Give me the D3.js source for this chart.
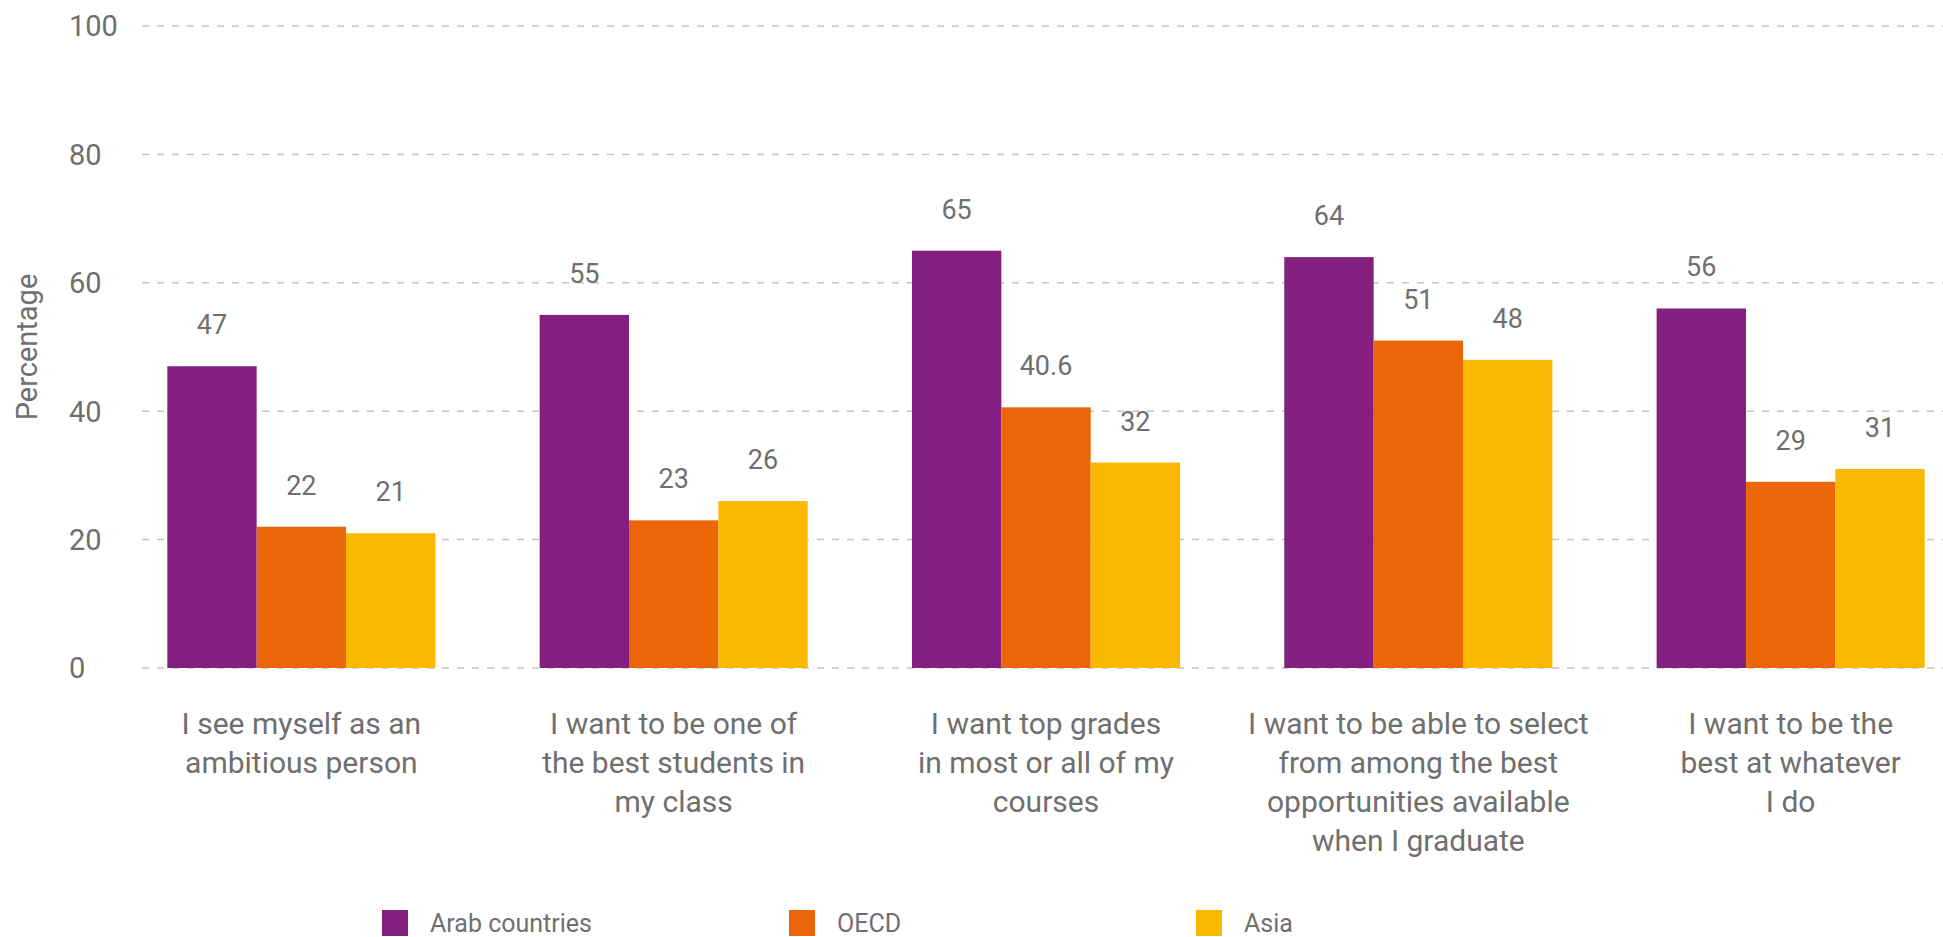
<!DOCTYPE html>
<html>
<head>
<meta charset="utf-8">
<script src="https://cdn.jsdelivr.net/npm/d3@7"></script>
<style>
  html, body { margin: 0; padding: 0; background: #ffffff; }
  svg { display: block; }
  text { font-family: Roboto, "Noto Sans", sans-serif; fill: #6f6f6f; }
</style>
</head>
<body>
<svg id="chart" width="1943" height="937"></svg>
<script>
// Survey statements (one entry per group, split into display lines)
const categories = [
  ["I see myself as an", "ambitious person"],
  ["I want to be one of", "the best students in", "my class"],
  ["I want top grades", "in most or all of my", "courses"],
  ["I want to be able to select", "from among the best", "opportunities available", "when I graduate"],
  ["I want to be the", "best at whatever", "I do"]
];

const seriesNames = ["Arab countries", "OECD", "Asia"];
const seriesColors = ["#831f7e", "#eb6608", "#fab900"];

// Percentage of students agreeing, per region
const arabValues = [47, 55, 65, 64, 56];
const oecdValues = [22, 23, 40.6, 51, 29];
const asiaValues = [21, 26, 32, 48, 31];

const yTicks = [0, 20, 40, 60, 80, 100];
const yTitle = "Percentage";

const seriesValues = [arabValues, oecdValues, asiaValues];

const svg = d3.select("#chart");

const x0 = d3.scaleBand()
  .domain(d3.range(categories.length))
  .range([142, 1950])
  .paddingInner(0.28)
  .paddingOuter(0.068);

const x1 = d3.scaleBand()
  .domain(d3.range(seriesNames.length))
  .range([0, x0.bandwidth()])
  .padding(0);

const y = d3.scaleLinear().domain([0, 100]).range([668, 26]);

// Dashed horizontal gridlines
svg.append("g")
  .selectAll("line")
  .data(yTicks)
  .join("line")
  .attr("x1", 142)
  .attr("x2", 1943)
  .attr("y1", d => y(d))
  .attr("y2", d => y(d))
  .attr("stroke", "#c4c4c4")
  .attr("stroke-width", 1.5)
  .attr("stroke-dasharray", "7,8");

// Y tick labels, left aligned
svg.append("g")
  .selectAll("text")
  .data(yTicks)
  .join("text")
  .attr("x", 69)
  .attr("y", d => y(d))
  .attr("dy", "0.36em")
  .attr("font-size", 29)
  .text(d => d);

// Axis title
svg.append("text")
  .attr("transform", `translate(37, 347) rotate(-90)`)
  .attr("text-anchor", "middle")
  .attr("font-size", 29)
  .text(yTitle);

// Bars grouped by statement
const groups = svg.append("g")
  .selectAll("g")
  .data(categories.map((c, i) => i))
  .join("g")
  .attr("transform", i => `translate(${x0(i)},0)`);

groups.selectAll("rect")
  .data(i => seriesValues.map((vals, s) => ({ s, v: vals[i] })))
  .join("rect")
  .attr("x", d => x1(d.s))
  .attr("y", d => y(d.v))
  .attr("width", x1.bandwidth())
  .attr("height", d => y(0) - y(d.v))
  .attr("fill", d => seriesColors[d.s]);

// Value labels above each bar
groups.selectAll("text.value")
  .data(i => seriesValues.map((vals, s) => ({ s, v: vals[i] })))
  .join("text")
  .attr("class", "value")
  .attr("x", d => x1(d.s) + x1.bandwidth() / 2)
  .attr("y", d => y(d.v) - 32)
  .attr("text-anchor", "middle")
  .attr("font-size", 27)
  .text(d => d.v);

// Statement labels under the groups
const catLabels = svg.append("g")
  .selectAll("text")
  .data(categories.map((c, i) => ({ lines: c, i })))
  .join("text")
  .attr("text-anchor", "middle")
  .attr("font-size", 30);

catLabels.selectAll("tspan")
  .data(d => d.lines.map((line, k) => ({ line, k, i: d.i })))
  .join("tspan")
  .attr("x", d => x0(d.i) + x0.bandwidth() / 2)
  .attr("y", d => 734 + d.k * 39)
  .text(d => d.line);

// Legend
const legend = svg.append("g")
  .selectAll("g")
  .data(seriesNames.map((n, s) => ({ n, s })))
  .join("g")
  .attr("transform", d => `translate(${382 + d.s * 407}, 910)`);

legend.append("rect")
  .attr("width", 26)
  .attr("height", 26)
  .attr("fill", d => seriesColors[d.s]);

legend.append("text")
  .attr("x", 48)
  .attr("y", 13)
  .attr("dy", "0.36em")
  .attr("font-size", 25)
  .text(d => d.n);
</script>
</body>
</html>
